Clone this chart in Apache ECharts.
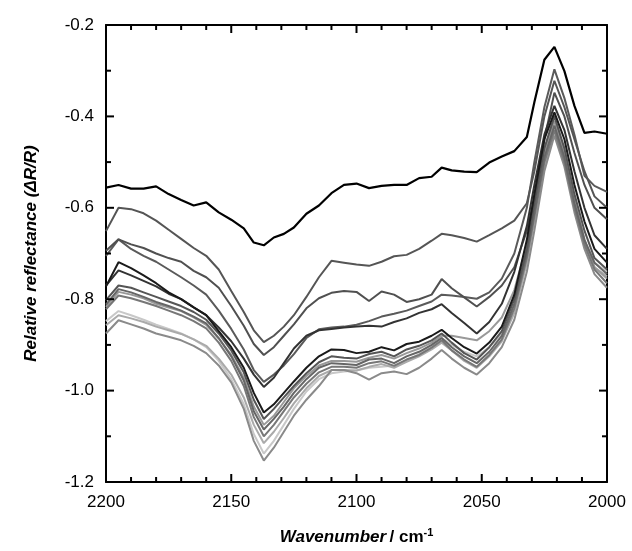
<!DOCTYPE html>
<html>
<head>
<meta charset="utf-8">
<script src="https://cdn.jsdelivr.net/npm/echarts@6/dist/echarts.min.js"></script>
<style>
  html, body { margin: 0; padding: 0; background: #fff; }
  #chart { width: 632px; height: 551px; }
</style>
</head>
<body>
<div id="chart"></div>
<script>
// wavenumber grid (cm-1)
const wavenumber = [2200, 2195, 2190, 2185, 2180, 2175, 2170, 2165, 2160, 2155, 2150, 2145, 2141, 2137, 2133, 2129, 2125, 2120, 2115, 2110, 2105, 2100, 2095, 2090, 2085, 2080, 2075, 2070, 2066, 2062, 2057, 2052, 2047, 2042, 2037, 2032, 2029, 2025, 2021, 2017, 2013, 2009, 2005, 2000]

// tick values of the frame
const xMajorTicks = [2200, 2150, 2100, 2050, 2000]
const xMinorTicks = [2190, 2180, 2170, 2160, 2140, 2130, 2120, 2110, 2090, 2080, 2070, 2060, 2040, 2030, 2020, 2010]
const yMajorTicks = [-1.2, -1.0, -0.8, -0.6, -0.4, -0.2]
const yMinorTicks = [-1.1, -0.9, -0.7, -0.5, -0.3]

// top black curve
const curveTop = [-0.556, -0.550, -0.558, -0.558, -0.553, -0.570, -0.583, -0.595, -0.588, -0.610, -0.626, -0.645, -0.676, -0.682, -0.665, -0.657, -0.643, -0.613, -0.595, -0.568, -0.550, -0.547, -0.557, -0.552, -0.550, -0.550, -0.535, -0.532, -0.512, -0.518, -0.521, -0.522, -0.501, -0.488, -0.476, -0.445, -0.369, -0.276, -0.248, -0.301, -0.377, -0.436, -0.433, -0.438]
// grey curves, top to bottom at the 2137 minimum
const curveA = [-0.651, -0.600, -0.603, -0.612, -0.628, -0.648, -0.668, -0.688, -0.705, -0.735, -0.782, -0.828, -0.868, -0.894, -0.880, -0.860, -0.835, -0.795, -0.752, -0.716, -0.720, -0.724, -0.727, -0.718, -0.706, -0.703, -0.690, -0.672, -0.657, -0.660, -0.666, -0.674, -0.660, -0.645, -0.628, -0.590, -0.520, -0.400, -0.322, -0.380, -0.450, -0.520, -0.575, -0.600]
const curveB = [-0.694, -0.669, -0.680, -0.688, -0.700, -0.710, -0.718, -0.738, -0.752, -0.775, -0.815, -0.858, -0.898, -0.922, -0.905, -0.880, -0.855, -0.820, -0.798, -0.786, -0.782, -0.784, -0.804, -0.783, -0.790, -0.806, -0.800, -0.790, -0.756, -0.776, -0.796, -0.816, -0.795, -0.770, -0.730, -0.650, -0.580, -0.450, -0.348, -0.400, -0.480, -0.550, -0.600, -0.625]
const curveC = [-0.705, -0.669, -0.690, -0.705, -0.718, -0.735, -0.752, -0.770, -0.790, -0.825, -0.865, -0.910, -0.955, -0.981, -0.965, -0.945, -0.920, -0.885, -0.866, -0.862, -0.860, -0.856, -0.848, -0.838, -0.832, -0.825, -0.815, -0.805, -0.790, -0.792, -0.795, -0.799, -0.785, -0.755, -0.700, -0.600, -0.500, -0.380, -0.297, -0.360, -0.440, -0.530, -0.552, -0.565]
const curveD = [-0.770, -0.737, -0.748, -0.760, -0.772, -0.788, -0.800, -0.818, -0.835, -0.862, -0.892, -0.930, -0.965, -0.992, -0.972, -0.940, -0.908, -0.880, -0.868, -0.865, -0.862, -0.860, -0.858, -0.860, -0.850, -0.842, -0.830, -0.822, -0.811, -0.830, -0.852, -0.875, -0.850, -0.810, -0.740, -0.640, -0.550, -0.440, -0.377, -0.430, -0.520, -0.600, -0.660, -0.690]
const curveE = [-0.772, -0.719, -0.732, -0.748, -0.765, -0.785, -0.800, -0.818, -0.835, -0.870, -0.905, -0.950, -1.005, -1.048, -1.030, -1.005, -0.980, -0.950, -0.925, -0.910, -0.911, -0.918, -0.915, -0.905, -0.912, -0.898, -0.893, -0.880, -0.867, -0.885, -0.905, -0.919, -0.895, -0.860, -0.790, -0.670, -0.570, -0.450, -0.391, -0.450, -0.550, -0.630, -0.690, -0.720]
const curveF = [-0.802, -0.770, -0.775, -0.785, -0.795, -0.805, -0.815, -0.828, -0.845, -0.875, -0.912, -0.960, -1.020, -1.062, -1.040, -1.015, -0.990, -0.962, -0.938, -0.925, -0.928, -0.930, -0.920, -0.915, -0.925, -0.910, -0.902, -0.890, -0.875, -0.895, -0.918, -0.932, -0.905, -0.870, -0.800, -0.690, -0.590, -0.470, -0.400, -0.470, -0.570, -0.650, -0.710, -0.735]
const curveG1 = [-0.817, -0.784, -0.790, -0.798, -0.810, -0.818, -0.826, -0.840, -0.856, -0.886, -0.922, -0.972, -1.035, -1.075, -1.055, -1.025, -0.995, -0.968, -0.945, -0.935, -0.935, -0.937, -0.928, -0.922, -0.930, -0.918, -0.908, -0.895, -0.880, -0.880, -0.885, -0.890, -0.870, -0.840, -0.780, -0.680, -0.600, -0.480, -0.410, -0.480, -0.580, -0.670, -0.730, -0.755]
const curveG2 = [-0.812, -0.778, -0.785, -0.795, -0.806, -0.815, -0.825, -0.838, -0.853, -0.885, -0.925, -0.978, -1.045, -1.085, -1.062, -1.035, -1.005, -0.975, -0.950, -0.940, -0.942, -0.944, -0.932, -0.930, -0.940, -0.925, -0.915, -0.900, -0.885, -0.905, -0.925, -0.940, -0.915, -0.880, -0.810, -0.700, -0.610, -0.490, -0.420, -0.490, -0.590, -0.670, -0.720, -0.745]
const curveG3 = [-0.822, -0.792, -0.798, -0.806, -0.815, -0.825, -0.835, -0.848, -0.864, -0.895, -0.935, -0.990, -1.058, -1.100, -1.075, -1.045, -1.015, -0.985, -0.960, -0.948, -0.948, -0.950, -0.940, -0.936, -0.946, -0.932, -0.922, -0.906, -0.890, -0.912, -0.932, -0.948, -0.922, -0.888, -0.820, -0.710, -0.620, -0.500, -0.430, -0.500, -0.600, -0.680, -0.735, -0.765]
const curveG4 = [-0.857, -0.835, -0.842, -0.850, -0.860, -0.868, -0.876, -0.888, -0.902, -0.930, -0.965, -1.015, -1.075, -1.115, -1.090, -1.060, -1.028, -0.995, -0.968, -0.955, -0.955, -0.956, -0.948, -0.942, -0.950, -0.937, -0.925, -0.910, -0.895, -0.912, -0.935, -0.950, -0.925, -0.892, -0.830, -0.720, -0.630, -0.510, -0.432, -0.500, -0.600, -0.680, -0.730, -0.750]
const curveG5 = [-0.848, -0.826, -0.835, -0.845, -0.856, -0.865, -0.875, -0.888, -0.905, -0.935, -0.975, -1.030, -1.095, -1.138, -1.110, -1.075, -1.040, -1.002, -0.975, -0.962, -0.958, -0.956, -0.950, -0.948, -0.945, -0.935, -0.920, -0.902, -0.885, -0.900, -0.915, -0.925, -0.905, -0.875, -0.815, -0.710, -0.620, -0.500, -0.425, -0.490, -0.590, -0.670, -0.720, -0.740]
const curveG6 = [-0.875, -0.846, -0.855, -0.864, -0.875, -0.882, -0.890, -0.902, -0.918, -0.945, -0.982, -1.040, -1.110, -1.153, -1.125, -1.090, -1.055, -1.020, -0.990, -0.955, -0.955, -0.962, -0.976, -0.962, -0.958, -0.964, -0.950, -0.930, -0.911, -0.930, -0.950, -0.965, -0.940, -0.905, -0.845, -0.740, -0.650, -0.520, -0.442, -0.510, -0.610, -0.690, -0.745, -0.775]

// drawing order: light ones first, black last
const curves = [
    { values: curveG5, color: '#c8c8c8' },
    { values: curveG4, color: '#aaaaaa' },
    { values: curveG1, color: '#999999' },
    { values: curveG6, color: '#8a8a8a' },
    { values: curveG3, color: '#777777' },
    { values: curveG2, color: '#666666' },
    { values: curveF, color: '#555555' },
    { values: curveC, color: '#5a5a5a' },
    { values: curveB, color: '#505050' },
    { values: curveA, color: '#555555' },
    { values: curveD, color: '#333333' },
    { values: curveE, color: '#1a1a1a' },
    { values: curveTop, color: '#000000' },
]

const X_MIN = 2000, X_MAX = 2200, Y_MIN = -1.2, Y_MAX = -0.2
const chart = echarts.init(document.getElementById('chart'))
const font = "'Liberation Sans', Arial, sans-serif"

// axisTick never showed up in this build, so the inward ticks are a custom
// series placed through the axes' own scale (api.coord)
function renderXTick(params, api) {
    const v = api.value(0)
    const len = api.value(2)
    const b = api.coord([v, Y_MIN])
    const t = api.coord([v, Y_MAX])
    const style = { stroke: '#000', lineWidth: 2 }
    return {
        type: 'group',
        children: [
            { type: 'line', shape: { x1: b[0], y1: b[1], x2: b[0], y2: b[1] - len }, style },
            { type: 'line', shape: { x1: t[0], y1: t[1], x2: t[0], y2: t[1] + len }, style },
        ],
    }
}
function renderYTick(params, api) {
    const v = api.value(1)
    const len = api.value(2)
    const l = api.coord([X_MAX, v])
    const r = api.coord([X_MIN, v])
    const style = { stroke: '#000', lineWidth: 2 }
    return {
        type: 'group',
        children: [
            { type: 'line', shape: { x1: l[0], y1: l[1], x2: l[0] + len, y2: l[1] }, style },
            { type: 'line', shape: { x1: r[0], y1: r[1], x2: r[0] - len, y2: r[1] }, style },
        ],
    }
}

const tickSeries = [
    { data: xMajorTicks.map((v) => [v, Y_MIN, 8]), renderItem: renderXTick },
    { data: xMinorTicks.map((v) => [v, Y_MIN, 5]), renderItem: renderXTick },
    { data: yMajorTicks.map((v) => [X_MAX, v, 8]), renderItem: renderYTick },
    { data: yMinorTicks.map((v) => [X_MAX, v, 5]), renderItem: renderYTick },
].map((s) => ({
    type: 'custom',
    xAxisIndex: 0,
    yAxisIndex: 0,
    dimensions: ['x', 'y', 'len'],
    encode: { x: 0, y: 1 },
    data: s.data,
    renderItem: s.renderItem,
    silent: true,
    z: 5,
}))

chart.setOption({
    animation: false,
    grid: { left: 106, right: 25, top: 25, bottom: 64 },
    xAxis: [
        {
            type: 'value', min: X_MIN, max: X_MAX, interval: 50, inverse: true, position: 'bottom',
            axisLine: { show: true, onZero: false, lineStyle: { color: '#000', width: 2 } },
            axisTick: { show: false },
            splitLine: { show: false },
            axisLabel: { show: true, color: '#000', fontSize: 17, fontFamily: font, margin: 12, formatter: (v) => String(v) },
            name: '{it|Wavenumber} {n|/ cm}{sup|-1}',
            nameLocation: 'middle',
            nameGap: 45,
            nameTextStyle: {
                rich: {
                    it: { fontSize: 17, fontWeight: 'bold', fontStyle: 'italic', fontFamily: font, color: '#000' },
                    n: { fontSize: 17, fontWeight: 'bold', fontFamily: font, color: '#000' },
                    sup: { fontSize: 11, fontWeight: 'bold', fontFamily: font, color: '#000', verticalAlign: 'top', padding: [0, 0, 10, 0] },
                },
            },
        },
        {
            type: 'value', min: X_MIN, max: X_MAX, interval: 50, inverse: true, position: 'top',
            axisLine: { show: true, onZero: false, lineStyle: { color: '#000', width: 2 } },
            axisTick: { show: false },
            axisLabel: { show: false },
            splitLine: { show: false },
        },
    ],
    yAxis: [
        {
            type: 'value', min: Y_MIN, max: Y_MAX, interval: 0.2, position: 'left',
            axisLine: { show: true, onZero: false, lineStyle: { color: '#000', width: 2 } },
            axisTick: { show: false },
            splitLine: { show: false },
            axisLabel: { show: true, color: '#000', fontSize: 17, fontFamily: font, margin: 12, formatter: (v) => v.toFixed(1) },
            name: 'Relative reflectance (ΔR/R)',
            nameLocation: 'middle',
            nameGap: 66,
            nameTextStyle: { fontSize: 17, fontWeight: 'bold', fontStyle: 'italic', fontFamily: font, color: '#000' },
        },
        {
            type: 'value', min: Y_MIN, max: Y_MAX, interval: 0.2, position: 'right',
            axisLine: { show: true, onZero: false, lineStyle: { color: '#000', width: 2 } },
            axisTick: { show: false },
            axisLabel: { show: false },
            splitLine: { show: false },
        },
    ],
    series: curves.map((c) => ({
        type: 'line',
        xAxisIndex: 0,
        yAxisIndex: 0,
        data: wavenumber.map((w, i) => [w, c.values[i]]),
        showSymbol: false,
        symbol: 'none',
        lineStyle: { color: c.color, width: c.color === '#000000' ? 2.2 : 2 },
    })).concat(tickSeries),
})
</script>
</body>
</html>
